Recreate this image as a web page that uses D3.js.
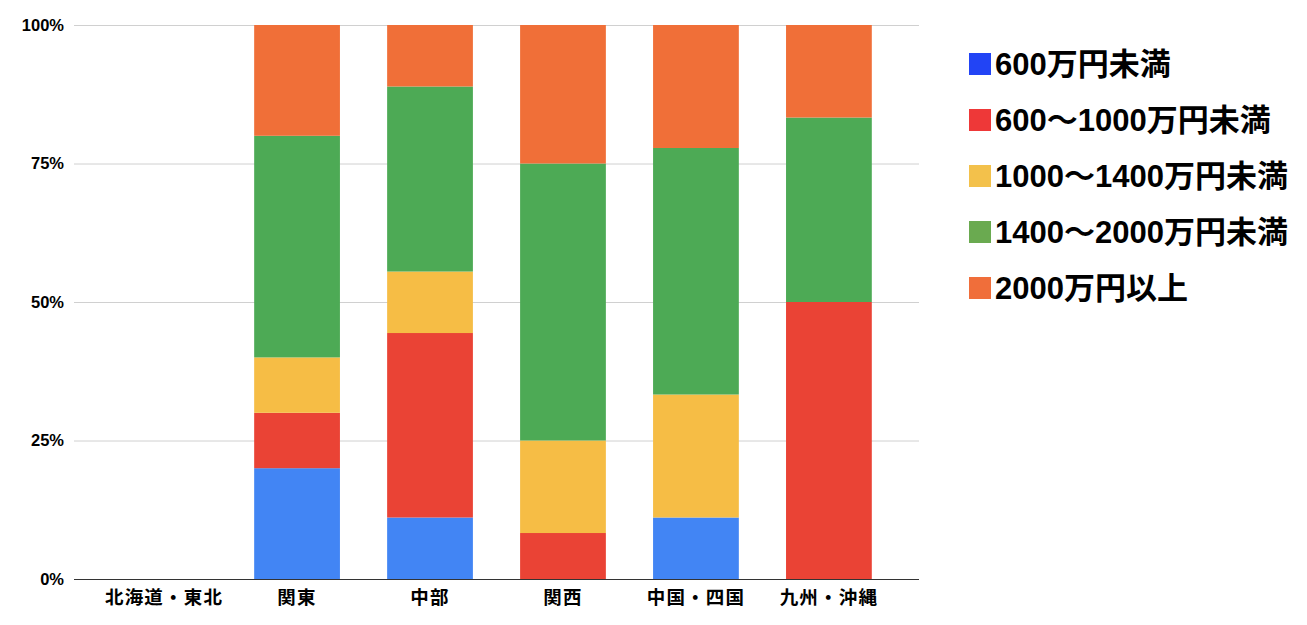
<!DOCTYPE html>
<html>
<head>
<meta charset="utf-8">
<script src="https://cdn.jsdelivr.net/npm/d3@7"></script>
<style>
  html, body { margin: 0; padding: 0; background: #fff; }
  text { font-family: "Liberation Sans", "Noto Sans CJK JP", sans-serif; font-weight: bold; fill: #000; }
</style>
</head>
<body>
<svg id="chart" width="1307" height="625"></svg>
<script>
// regions on the x axis
const categories = ['北海道・東北', '関東', '中部', '関西', '中国・四国', '九州・沖縄'];

// income brackets (legend order, bottom to top in the stack)
const seriesNames = ['600万円未満', '600〜1000万円未満', '1000〜1400万円未満', '1400〜2000万円未満', '2000万円以上'];

// share of each bracket per region, in %
const under600 = [0, 20, 11.1, 0, 11.1, 0];
const from600to1000 = [0, 10, 33.3, 8.3, 0, 50];
const from1000to1400 = [0, 10, 11.1, 16.7, 22.2, 0];
const from1400to2000 = [0, 40, 33.4, 50, 44.5, 33.3];
const over2000 = [0, 20, 11.1, 25, 22.2, 16.7];

const yTicks = [0, 0.25, 0.5, 0.75, 1];

const barColors = ['#4285f4', '#ea4335', '#f6bd45', '#4daa55', '#f06f38'];
const legendColors = ['#2244f5', '#ee3838', '#f3c14b', '#6aaa50', '#f06e3a'];

const allSeries = [under600, from600to1000, from1000to1400, from1400to2000, over2000];
const rows = categories.map((c, i) => {
    const row = { category: c };
    seriesNames.forEach((s, k) => { row[s] = allSeries[k][i]; });
    return row;
});

const stacked = d3.stack()
    .keys(seriesNames)
    .offset(d3.stackOffsetExpand)(rows);

const svg = d3.select('#chart');
const plotLeft = 74, plotRight = 919, plotTop = 25, plotBottom = 579;

const x = d3.scaleBand()
    .domain(categories)
    .range([plotLeft, plotRight])
    .paddingInner(0.355)
    .paddingOuter(0.355);

const y = d3.scaleLinear()
    .domain([0, 1])
    .range([plotBottom, plotTop]);

// gridlines
svg.append('g')
    .selectAll('line')
    .data(yTicks.filter(t => t > 0))
    .join('line')
    .attr('x1', plotLeft)
    .attr('x2', plotRight)
    .attr('y1', d => y(d) + 0.5)
    .attr('y2', d => y(d) + 0.5)
    .attr('stroke', '#d0d0d0')
    .attr('stroke-width', 1);

// bars
svg.append('g')
    .selectAll('g')
    .data(stacked)
    .join('g')
    .attr('fill', (d, i) => barColors[i])
    .selectAll('rect')
    .data(d => d)
    .join('rect')
    .attr('x', d => x(d.data.category))
    .attr('width', x.bandwidth())
    .attr('y', d => y(d[1]))
    .attr('height', d => Math.max(0, y(d[0]) - y(d[1])));

// baseline
svg.append('line')
    .attr('x1', plotLeft)
    .attr('x2', plotRight)
    .attr('y1', plotBottom + 0.5)
    .attr('y2', plotBottom + 0.5)
    .attr('stroke', '#333')
    .attr('stroke-width', 1);

// y axis labels
svg.append('g')
    .selectAll('text')
    .data(yTicks)
    .join('text')
    .attr('x', 64)
    .attr('y', d => y(d))
    .attr('dy', '0.36em')
    .attr('text-anchor', 'end')
    .style('font-size', '16.5px')
    .text(d => d3.format('.0%')(d));

// x axis labels
svg.append('g')
    .selectAll('text')
    .data(categories)
    .join('text')
    .attr('x', d => x(d) + x.bandwidth() / 2)
    .attr('y', 604)
    .attr('text-anchor', 'middle')
    .style('font-size', '18.5px')
    .style('letter-spacing', '1.2px')
    .text(d => d);

// legend
const legend = svg.append('g')
    .selectAll('g')
    .data(seriesNames)
    .join('g')
    .attr('transform', (d, i) => `translate(969,${64 + i * 56})`);

legend.append('rect')
    .attr('x', 0)
    .attr('y', -11)
    .attr('width', 22)
    .attr('height', 22)
    .attr('fill', (d, i) => legendColors[i]);

legend.append('text')
    .attr('x', 26)
    .attr('y', 0)
    .attr('dy', '0.36em')
    .style('font-size', '31px')
    .text(d => d);
</script>
</body>
</html>
